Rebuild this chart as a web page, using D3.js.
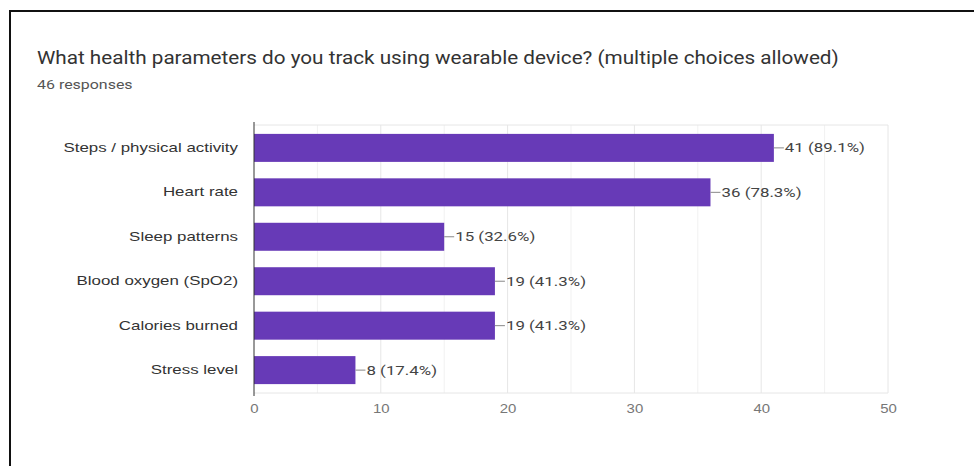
<!DOCTYPE html>
<html lang="en">
<head>
<meta charset="UTF-8">
<title>Wearable health parameters</title>
<style>
  body { margin: 0; background: #fff; }
  svg { display: block; font-family: Roboto, Arial, sans-serif; }
  .grid line { stroke: #e6e6e6; }
  .grid .minor { stroke: #f1f1f1; }
</style>
</head>
<body>
<svg width="974" height="466"></svg>
<script src="https://cdnjs.cloudflare.com/ajax/libs/d3/7.8.5/d3.min.js"></script>
<script>
var categories = ["Steps / physical activity", "Heart rate", "Sleep patterns",
                  "Blood oxygen (SpO2)", "Calories burned", "Stress level"];
var counts = [41, 36, 15, 19, 19, 8];
var percents = ["89.1%", "78.3%", "32.6%", "41.3%", "41.3%", "17.4%"];
var xTicks = [0, 10, 20, 30, 40, 50];
var minorTicks = [5, 15, 25, 35, 45];

var svg = d3.select("svg");

// the source screenshot is stretched sideways, so widen glyphs about their anchor
function widen(sel, k) {
    sel.each(function() {
        var t = d3.select(this), ax = +t.attr("x") || 0;
        var prev = t.attr("transform") || "";
        t.attr("transform", `${prev} translate(${ax},0) scale(${k},1) translate(${-ax},0)`);
    });
}

// page frame (cut out of a document)
svg.append("line").attr("x1", 9).attr("x2", 974).attr("y1", 11).attr("y2", 11)
    .attr("stroke", "#111").attr("stroke-width", 2);
svg.append("line").attr("x1", 10).attr("x2", 10).attr("y1", 10).attr("y2", 466)
    .attr("stroke", "#111").attr("stroke-width", 2);

svg.append("text").attr("x", 37).attr("y", 64)
    .attr("font-size", 18).attr("fill", "#333")
    .text("What health parameters do you track using wearable device? (multiple choices allowed)")
    .call(widen, 1.15);
svg.append("text").attr("x", 37).attr("y", 89)
    .attr("font-size", 12).attr("fill", "#555")
    .text("46 responses")
    .call(widen, 1.33);

var margin = {top: 125, left: 254, right: 86, bottom: 73};
var width = 974 - margin.left - margin.right;
var height = 466 - margin.top - margin.bottom;
var g = svg.append("g").attr("transform", `translate(${margin.left}, ${margin.top})`);

var x = d3.scaleLinear().domain([0, 50]).range([0, width]);
var y = d3.scaleBand().domain(categories).range([0, height]).paddingInner(0.37).paddingOuter(0.2);

var grid = g.append("g").attr("class", "grid");
grid.selectAll(".minor").data(minorTicks).join("line").attr("class", "minor")
    .attr("x1", d => x(d)).attr("x2", d => x(d)).attr("y1", 0).attr("y2", height);
grid.selectAll(".major").data(xTicks.slice(1)).join("line").attr("class", "major")
    .attr("x1", d => x(d)).attr("x2", d => x(d)).attr("y1", 0).attr("y2", height);
grid.append("line").attr("x1", 0).attr("x2", width).attr("y1", 0).attr("y2", 0);
grid.append("line").attr("x1", 0).attr("x2", width).attr("y1", height).attr("y2", height);

var data = categories.map((c, i) => ({cat: c, n: counts[i], p: percents[i]}));

g.selectAll("rect.bar").data(data).join("rect").attr("class", "bar")
    .attr("x", 0).attr("y", d => y(d.cat))
    .attr("width", d => x(d.n)).attr("height", y.bandwidth())
    .attr("fill", "#673ab7");

// leader + value labels
g.selectAll("line.lead").data(data).join("line").attr("class", "lead")
    .attr("x1", d => x(d.n)).attr("x2", d => x(d.n) + 10)
    .attr("y1", d => y(d.cat) + y.bandwidth() / 2).attr("y2", d => y(d.cat) + y.bandwidth() / 2)
    .attr("stroke", "#888");
g.selectAll("text.val").data(data).join("text").attr("class", "val")
    .attr("x", d => x(d.n) + 11).attr("y", d => y(d.cat) + y.bandwidth() / 2)
    .attr("dy", "0.35em").attr("font-size", 13).attr("fill", "#444")
    .text(d => `${d.n} (${d.p})`)
    .call(widen, 1.3);

// axes
var xAxis = g.append("g").attr("transform", `translate(0, ${height})`)
    .call(d3.axisBottom(x).tickValues(xTicks).tickSize(0).tickPadding(11));
xAxis.select(".domain").remove();
xAxis.selectAll("text").attr("font-size", 13).attr("fill", "#777").call(widen, 1.15);

var yAxis = g.append("g").call(d3.axisLeft(y).tickSize(0).tickPadding(16));
yAxis.select(".domain").remove();
yAxis.selectAll("text").attr("font-size", 13).attr("fill", "#333").call(widen, 1.3);

g.append("line").attr("x1", 0).attr("x2", 0).attr("y1", -3).attr("y2", height + 3)
    .attr("stroke", "#333").attr("stroke-width", 1);
</script>
</body>
</html>
